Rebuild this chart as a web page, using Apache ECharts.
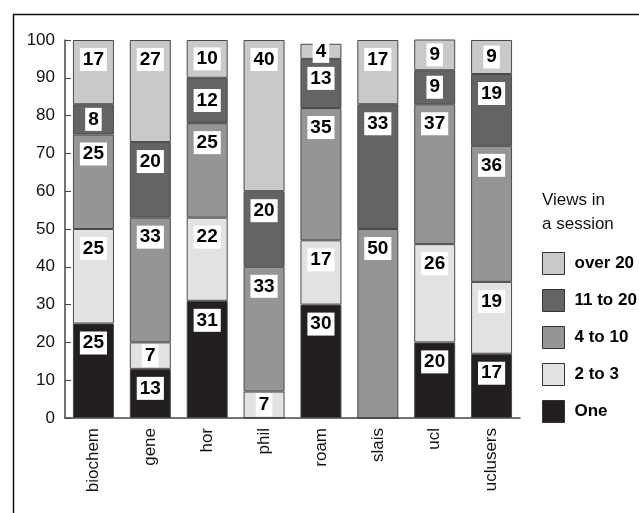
<!DOCTYPE html>
<html>
<head>
<meta charset="utf-8">
<script src="https://cdn.jsdelivr.net/npm/echarts@6/dist/echarts.min.js"></script>
<style>
  html, body { margin: 0; padding: 0; background: #fff; }
  #chart { width: 639px; height: 513px; }
</style>
</head>
<body>
<div id="chart"></div>
<script>
// Share of sessions by number of page views, per site (percent)
const sites = ['biochem', 'gene', 'hor', 'phil', 'roam', 'slais', 'ucl', 'uclusers'];
const one       = [25, 13, 31, 0, 30, 0, 20, 17];
const twoToThree = [25, 7, 22, 7, 17, 0, 26, 19];
const fourToTen = [25, 33, 25, 33, 35, 50, 37, 36];
const elevenToTwenty = [8, 20, 12, 20, 13, 33, 9, 19];
const overTwenty = [17, 27, 10, 40, 4, 17, 9, 9];
const yTicks = [0, 10, 20, 30, 40, 50, 60, 70, 80, 90, 100];

const FONT = '"Liberation Sans Narrow", "Arial Narrow", "Liberation Sans", Arial, sans-serif';

const groups = [
  { name: 'One',      values: one,            color: '#231f20' },
  { name: '2 to 3',   values: twoToThree,     color: '#e1e2e3' },
  { name: '4 to 10',  values: fourToTen,      color: '#959598' },
  { name: '11 to 20', values: elevenToTwenty, color: '#646466' },
  { name: 'over 20',  values: overTwenty,     color: '#c8c9cb' }
];

// Tall segments carry their label near the top, short ones in the middle
function itemsFor(values) {
  return values.map(v => {
    const big = v >= 13;
    return {
      value: v,
      label: {
        show: v > 0,
        position: big ? 'insideTop' : 'inside',
        distance: big ? 8 : 5
      }
    };
  });
}

const series = groups.map(g => ({
  name: g.name,
  type: 'bar',
  stack: 'views',
  barWidth: 41,
  clip: true,
  itemStyle: { color: g.color, borderColor: '#4a4a4a', borderWidth: 1 },
  label: {
    color: '#000',
    backgroundColor: '#fff',
    fontFamily: FONT,
    fontWeight: 'bold',
    fontSize: 19,
    lineHeight: 19,
    padding: [2, 3, 2, 3],
    formatter: '{c}'
  },
  emphasis: { disabled: true },
  data: itemsFor(g.values)
}));

const chart = echarts.init(document.getElementById('chart'), null, { renderer: 'canvas' });
chart.setOption({
  animation: false,
  backgroundColor: '#fff',
  textStyle: { fontFamily: FONT },
  title: {
    text: 'Views in\na session',
    left: 542,
    top: 188,
    padding: 0,
    textStyle: { fontFamily: FONT, fontWeight: 'normal', fontSize: 17, lineHeight: 24, color: '#111' }
  },
  legend: {
    orient: 'vertical',
    left: 542,
    top: 252,
    padding: 0,
    itemWidth: 22,
    itemHeight: 22,
    itemGap: 14,
    icon: 'rect',
    data: ['over 20', '11 to 20', '4 to 10', '2 to 3', 'One'],
    itemStyle: { borderColor: '#333', borderWidth: 1 },
    textStyle: { fontFamily: FONT, fontWeight: 'bold', fontSize: 17, color: '#000', padding: [0, 0, 0, 5] },
    selectedMode: false
  },
  grid: { left: 65, right: 119, top: 40, bottom: 95, containLabel: false },
  xAxis: {
    type: 'category',
    data: sites,
    axisLine: { lineStyle: { color: '#444', width: 1.5 } },
    axisTick: { inside: true, length: 9, alignWithLabel: false, lineStyle: { color: '#444' } },
    axisLabel: { rotate: 90, margin: 10, fontFamily: FONT, fontSize: 17, color: '#111' }
  },
  yAxis: {
    type: 'value',
    min: yTicks[0],
    max: yTicks[yTicks.length - 1],
    interval: yTicks[1] - yTicks[0],
    splitLine: { show: false },
    axisLine: { show: true, lineStyle: { color: '#444', width: 1.5 } },
    axisTick: { show: true, inside: true, length: 6, lineStyle: { color: '#444' } },
    axisLabel: { margin: 10, fontFamily: FONT, fontSize: 17, color: '#111' }
  },
  graphic: [{
    type: 'rect',
    left: 11, top: 12,
    shape: { width: 700, height: 600 },
    style: { fill: null, stroke: '#111', lineWidth: 1.5 },
    silent: true,
    z: -1
  }],
  series: series
});
</script>
</body>
</html>
